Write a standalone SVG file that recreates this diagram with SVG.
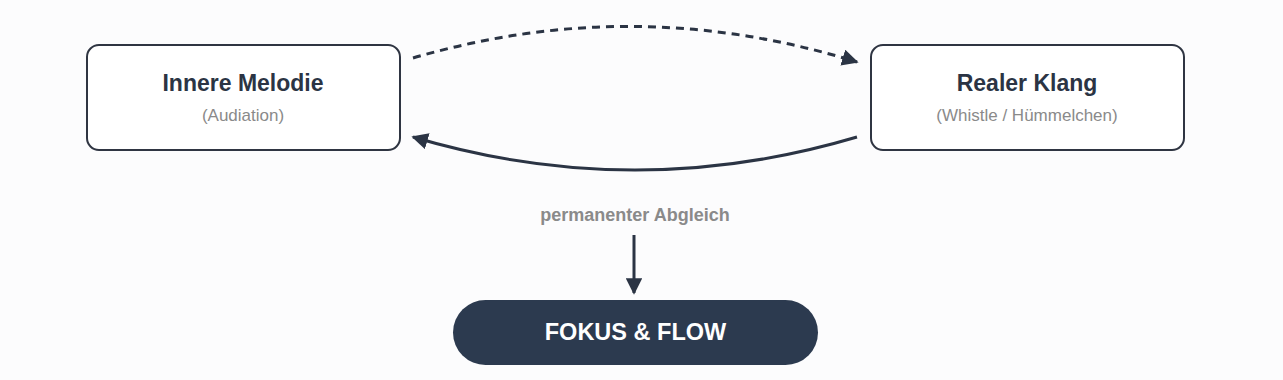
<svg xmlns="http://www.w3.org/2000/svg" width="1283" height="380" viewBox="0 0 1283 380">
<style>
.box{fill:#ffffff;stroke:#2f3542;stroke-width:2}
.title{font-family:"Liberation Sans",Arial,sans-serif;font-weight:bold;font-size:23px;fill:#2b3444;text-anchor:middle}
.sub{font-family:"Liberation Sans",Arial,sans-serif;font-size:17px;fill:#8a8a8a;text-anchor:middle}
.conn{fill:none;stroke:#2b3444;stroke-width:3}
.label{font-family:"Liberation Sans",Arial,sans-serif;font-weight:bold;font-size:18px;fill:#8a8a8a;text-anchor:middle}
.pill{fill:#2c3a4f}
.pilltext{font-family:"Liberation Sans",Arial,sans-serif;font-weight:bold;font-size:23.5px;fill:#ffffff;text-anchor:middle}
</style>
<defs>
<marker id="arr" viewBox="0 0 10 10" refX="9" refY="5" markerWidth="5.5" markerHeight="5.5" orient="auto" markerUnits="strokeWidth">
<path d="M0,0 L10,5 L0,10 Z" fill="#2b3444"/>
</marker>
</defs>
<rect width="1283" height="380" fill="#fcfcfd"/>
<g id="connectors">
<path class="conn" d="M413,58 Q635,-7 857,62" stroke-dasharray="8,6" marker-end="url(#arr)"/>
<path class="conn" d="M857,137 Q635,203 413,137" marker-end="url(#arr)"/>
<path class="conn" d="M634,235 L634,293" marker-end="url(#arr)"/>
<text class="label" x="635" y="221">permanenter Abgleich</text>
</g>
<g id="node-innere">
<rect class="box" x="87" y="45" width="313" height="105" rx="12"/>
<text class="title" x="243" y="91">Innere Melodie</text>
<text class="sub" x="243" y="121">(Audiation)</text>
</g>
<g id="node-realer">
<rect class="box" x="871" y="45" width="313" height="105" rx="12"/>
<text class="title" x="1027" y="91">Realer Klang</text>
<text class="sub" x="1027" y="121">(Whistle / Hümmelchen)</text>
</g>
<g id="node-fokus">
<rect class="pill" x="453" y="300" width="365" height="65" rx="32.5"/>
<text class="pilltext" x="635.5" y="340">FOKUS &amp; FLOW</text>
</g>
</svg>
